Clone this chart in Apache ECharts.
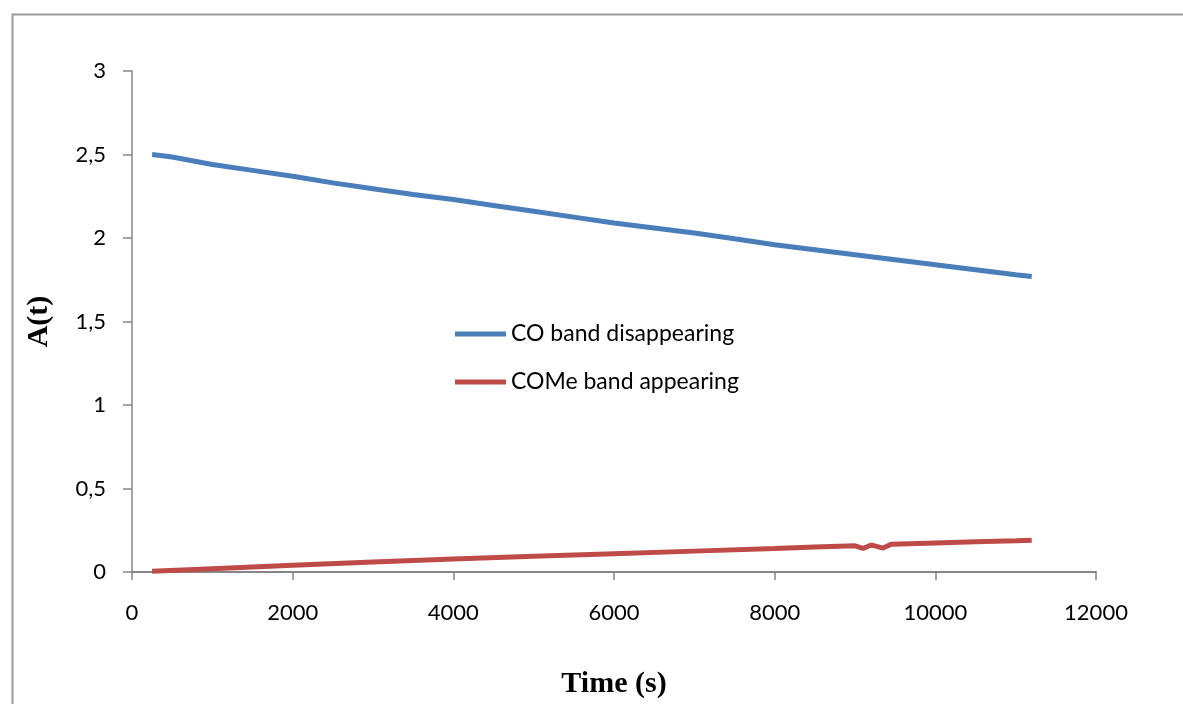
<!DOCTYPE html>
<html>
<head>
<meta charset="utf-8">
<script src="https://cdn.jsdelivr.net/npm/echarts@6/dist/echarts.min.js"></script>
<style>
html,body{margin:0;padding:0;background:#fff;}
#chart{width:1183px;height:704px;}
</style>
</head>
<body>
<div id="chart"></div>
<script>
// Data
var timeCO   = [250, 500, 1000, 1500, 2000, 2500, 3000, 3500, 4000, 4500, 5000, 5500, 6000, 6500, 7000, 7500, 8000, 8500, 9000, 9500, 10000, 10500, 11000, 11200];
var coBand   = [2.50, 2.485, 2.44, 2.405, 2.37, 2.33, 2.295, 2.26, 2.23, 2.195, 2.16, 2.125, 2.09, 2.06, 2.03, 1.995, 1.96, 1.93, 1.90, 1.87, 1.84, 1.81, 1.78, 1.77];
var timeCOMe = [250, 1000, 2000, 3000, 4000, 5000, 6000, 7000, 8000, 8500, 9000, 9100, 9200, 9350, 9450, 10000, 10500, 11000, 11200];
var comeBand = [0.004, 0.020, 0.040, 0.060, 0.078, 0.095, 0.110, 0.125, 0.140, 0.149, 0.157, 0.141, 0.162, 0.143, 0.166, 0.174, 0.181, 0.187, 0.190];
var yTickLabels = ['0', '0,5', '1', '1,5', '2', '2,5', '3'];
var xTickLabels = ['0', '2000', '4000', '6000', '8000', '10000', '12000'];
var seriesNames = ['CO band disappearing', 'COMe band appearing'];
var xTitle = 'Time (s)';
var yTitle = 'A(t)';

function pairs(xs, ys) { return xs.map(function (x, i) { return [x, ys[i]]; }); }

var chart = echarts.init(document.getElementById('chart'), null, {renderer: 'canvas'});
var axisColor = '#868686';
chart.setOption({
  backgroundColor: '#ffffff',
  animation: false,
  graphic: [{
    type: 'rect', left: 10, top: 12, silent: true,
    shape: {width: 1300, height: 800},
    style: {fill: 'none', stroke: '#9a9a9a', lineWidth: 2}
  }],
  grid: {left: 132, right: 87, top: 71, bottom: 123, containLabel: false},
  legend: {
    orient: 'vertical', left: 455, top: 319, padding: 0,
    itemWidth: 51, itemHeight: 5, itemGap: 18, icon: 'rect',
    textStyle: {fontFamily: 'Lato', fontSize: 23, color: '#000', lineHeight: 30},
    data: seriesNames
  },
  xAxis: {
    type: 'value', min: 0, max: 12000, interval: 2000,
    name: xTitle, nameLocation: 'middle', nameGap: 97,
    nameTextStyle: {fontFamily: 'Liberation Serif', fontWeight: 'bold', fontSize: 30, color: '#000'},
    axisLine: {show: true, onZero: false, lineStyle: {color: axisColor, width: 2}},
    axisTick: {show: true, length: 8, lineStyle: {color: axisColor, width: 1.5}},
    axisLabel: {
      margin: 30, fontFamily: 'Lato', fontSize: 22, color: '#000',
      formatter: function (v) { return xTickLabels[Math.round(v / 2000)]; }
    },
    splitLine: {show: false}
  },
  yAxis: {
    type: 'value', min: 0, max: 3, interval: 0.5,
    name: yTitle, nameLocation: 'middle', nameGap: 78, nameRotate: 90,
    nameTextStyle: {fontFamily: 'Liberation Serif', fontWeight: 'bold', fontSize: 30, color: '#000'},
    axisLine: {show: true, lineStyle: {color: axisColor, width: 1.5}},
    axisTick: {show: true, inside: false, length: 9, lineStyle: {color: axisColor, width: 1.5}},
    axisLabel: {
      margin: 26, fontFamily: 'Lato', fontSize: 22, color: '#000',
      formatter: function (v) { return yTickLabels[Math.round(v / 0.5)]; }
    },
    splitLine: {show: false}
  },
  series: [
    {
      name: seriesNames[0], type: 'line', data: pairs(timeCO, coBand),
      showSymbol: false, symbol: 'none',
      lineStyle: {color: '#4a7ebb', width: 5}, itemStyle: {color: '#4a7ebb'}
    },
    {
      name: seriesNames[1], type: 'line', data: pairs(timeCOMe, comeBand),
      showSymbol: false, symbol: 'none',
      lineStyle: {color: '#be4b48', width: 5}, itemStyle: {color: '#be4b48'}
    }
  ]
});
</script>
</body>
</html>
